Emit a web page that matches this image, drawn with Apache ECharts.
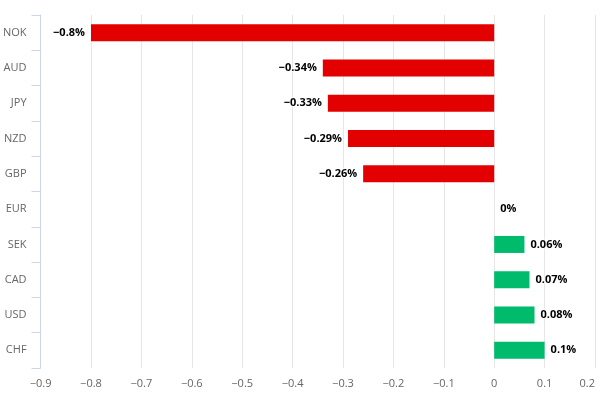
<!DOCTYPE html>
<html><head><meta charset="utf-8">
<script src="https://cdn.jsdelivr.net/npm/echarts@6/dist/echarts.min.js"></script>
<style>html,body{margin:0;padding:0;background:#fff}#c{width:603px;height:394px}</style>
</head><body><div id="c"></div>
<script>
const categories = ['NOK','AUD','JPY','NZD','GBP','EUR','SEK','CAD','USD','CHF'];
const values = [-0.8,-0.34,-0.33,-0.29,-0.26,0,0.06,0.07,0.08,0.1];
const xMin = -0.9, xMax = 0.2, xStep = 0.1;
const RED = '#e20000', GREEN = '#00bb6b';
const fmt = v => String(+(+v).toFixed(2)).replace('-', '\u2212');
const chart = echarts.init(document.getElementById('c'), null, {renderer:'canvas'});
chart.setOption({
  animation:false,
  backgroundColor:'#fff',
  grid:{left:39,right:8,top:15,bottom:26,containLabel:false},
  xAxis:{type:'value',min:xMin,max:xMax,interval:xStep,
    axisLine:{show:false},axisTick:{show:false},
    splitLine:{lineStyle:{color:'#e6e6e6',width:1}},
    axisLabel:{color:'#666',fontSize:11,fontFamily:'Open Sans',margin:10,alignMaxLabel:'right',
      formatter:v=>String(+(+v).toFixed(1)).replace('-', '\u2212')}},
  yAxis:{type:'category',data:categories,inverse:true,
    axisLine:{show:true,onZero:false,lineStyle:{color:'#ccd6eb'}},
    axisTick:{show:true,length:9,lineStyle:{color:'#ccd6eb'}},
    axisLabel:{color:'#666',fontSize:11,fontFamily:'Open Sans',margin:14}},
  series:[{type:'bar',barWidth:17,
    data:values.map(v=>({value:v,
      itemStyle:{color:v<0?RED:GREEN},
      label:{show:true,position:v<0?'left':'right',distance:6}})),
    label:{fontFamily:'Open Sans',fontWeight:'bold',fontSize:11,color:'#000',
      textBorderColor:'#fff',textBorderWidth:2,
      formatter:p=>fmt(p.value)+'%'}}]
});
</script></body></html>
